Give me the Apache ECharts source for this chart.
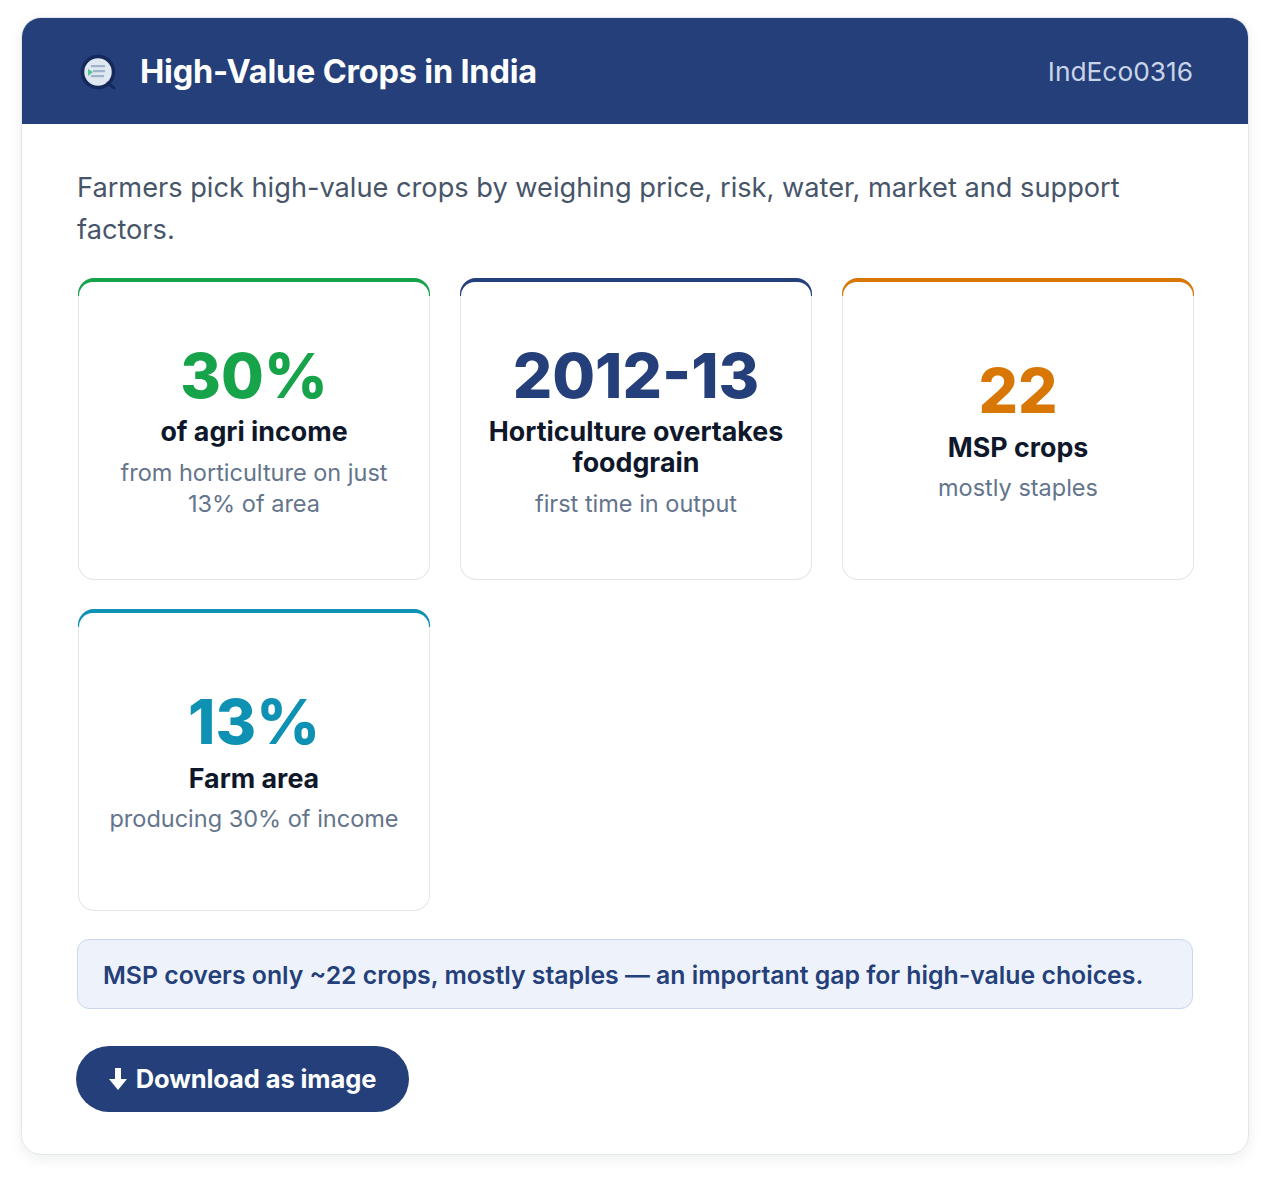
<!DOCTYPE html>
<html>
<head>
<meta charset="utf-8">
<script src="https://cdn.jsdelivr.net/npm/echarts@6/dist/echarts.min.js"></script>
<style>
  html, body { margin: 0; padding: 0; background: #ffffff; width: 1270px; height: 1180px; overflow: hidden; }
  body { font-family: Inter, "Noto Sans", "DejaVu Sans", sans-serif; }
  #card {
    position: absolute; left: 21px; top: 17px; width: 1226px; height: 1136px;
    border: 1px solid #e3e6eb; border-radius: 20px; background: #fff;
    box-shadow: 0 4px 14px rgba(15, 23, 42, 0.07); overflow: hidden;
  }
  #header {
    position: absolute; left: 0; top: 0; width: 100%; height: 106px; background: #243f7a;
  }
  #logo { position: absolute; left: 58px; top: 36px; width: 38px; height: 38px; }
  #title {
    position: absolute; left: 118px; top: 0; height: 106px; line-height: 108px;
    color: #ffffff; font-weight: 700; font-size: 32.5px; letter-spacing: -0.2px;
  }
  #code {
    position: absolute; right: 55px; top: 0; height: 106px; line-height: 108px;
    color: #c9d4e8; font-size: 26.3px; font-weight: 400;
  }
  #desc {
    position: absolute; left: 55px; top: 149px; width: 1118px;
    color: #475569; font-size: 27.2px; line-height: 42px;
  }
  #tiles { position: absolute; left: 55px; top: 259px; width: 1120px; height: 636px; }
  #note {
    position: absolute; left: 55px; top: 921px; width: 1116px; height: 70px;
    box-sizing: border-box; border: 1px solid #cbd7ee; border-radius: 12px; background: #eef3fb;
    color: #243f7a; font-size: 24.8px; font-weight: 600; line-height: 70px; padding-left: 25px;
    white-space: nowrap;
  }
  #btn {
    position: absolute; left: 54px; top: 1028px; width: 333px; height: 66px; border-radius: 33px;
    background: #243f7a; color: #fff; font-size: 25.5px; font-weight: 700; line-height: 66px;
    text-align: center; letter-spacing: -0.1px; white-space: nowrap;
  }
  #btn svg { display: inline-block; vertical-align: -2px; margin-right: 9px; }
</style>
</head>
<body>
<div id="card">
  <div id="header">
    <svg id="logo" viewBox="0 0 38 38">
      <circle cx="18" cy="18" r="15.5" fill="#dfe7f1" stroke="#15295a" stroke-width="3.5"/>
      <line x1="28" y1="29" x2="34" y2="34" stroke="#15295a" stroke-width="3" stroke-linecap="round"/>
      <rect x="11" y="11" width="14" height="2.2" fill="#9fb2cc"/>
      <rect x="13" y="16" width="12" height="2.2" fill="#9fb2cc"/>
      <rect x="11" y="21" width="13" height="2.2" fill="#9fb2cc"/>
      <polygon points="8,15 13,18 8,22" fill="#4fc39a"/>
    </svg>
    <div id="title">High-Value Crops in India</div>
    <div id="code">IndEco0316</div>
  </div>
  <div id="desc">Farmers pick high-value crops by weighing price, risk, water, market and support factors.</div>
  <div id="tiles"></div>
  <div id="note">MSP covers only ~22 crops, mostly staples — an important gap for high-value choices.</div>
  <div id="btn"><svg width="18" height="22" viewBox="0 0 18 22"><path d="M6,0 H12 V11 H18 L9,22 L0,11 H6 Z" fill="#ffffff"/></svg>Download as image</div>
</div>
<script>
// ---- data ----
const kpiValues = ['30%', '2012-13', '22', '13%'];
const kpiLabels = ['of agri income', 'Horticulture overtakes\nfoodgrain', 'MSP crops', 'Farm area'];
const kpiNotes = ['from horticulture on just\n13% of area', 'first time in output', 'mostly staples', 'producing 30% of income'];

// ---- style ----
const accentColors = ['#16a34a', '#243f7a', '#d97706', '#0e91b2'];
const FONT = 'Inter, "Noto Sans", sans-serif';
const TILE_W = 352, TILE_H = 302, STEP_X = 382, STEP_Y = 331, COLS = 3;

const chart = echarts.init(document.getElementById('tiles'), null, { renderer: 'svg' });

function textEl(str, x, y, font, fill) {
  return {
    type: 'text', silent: true,
    style: { text: str, x: x, y: y, font: font, fill: fill,
             textAlign: 'center', textVerticalAlign: 'middle', align: 'center', verticalAlign: 'middle' }
  };
}

const elements = [];
kpiValues.forEach(function (val, i) {
  const col = i % COLS, row = Math.floor(i / COLS);
  const x = 1 + col * STEP_X, y = 1 + row * STEP_Y;
  const color = accentColors[i];
  elements.push({ type: 'rect', silent: true, shape: { x: x, y: y, width: TILE_W, height: TILE_H, r: 16 }, style: { fill: '#e2e5ea' } });
  elements.push({ type: 'rect', silent: true, shape: { x: x, y: y, width: TILE_W, height: 18, r: [16, 16, 0, 0] }, style: { fill: color } });
  elements.push({ type: 'rect', silent: true, shape: { x: x + 1, y: y + 4, width: TILE_W - 2, height: TILE_H - 5, r: [14, 14, 15, 15] }, style: { fill: '#ffffff' } });

  const labelLines = kpiLabels[i].split('\n');
  const noteLines = kpiNotes[i].split('\n');
  const H = 72 + 4.5 + 31 * labelLines.length + 10 + 31 * noteLines.length;
  const cx = x + TILE_W / 2;
  let cy = y + TILE_H / 2 - H / 2;
  elements.push(textEl(val, cx, cy + 36, '800 62px ' + FONT, color));
  cy += 72 + 4.5;
  labelLines.forEach(function (ln, k) {
    elements.push(textEl(ln, cx, cy + 15.5 + k * 31, '700 26.8px ' + FONT, '#0f172a'));
  });
  cy += 31 * labelLines.length + 10;
  noteLines.forEach(function (ln, k) {
    elements.push(textEl(ln, cx, cy + 15.5 + k * 31, '400 23.5px ' + FONT, '#64748b'));
  });
});

chart.setOption({ animation: false, graphic: { elements: elements } });
</script>
</body>
</html>
